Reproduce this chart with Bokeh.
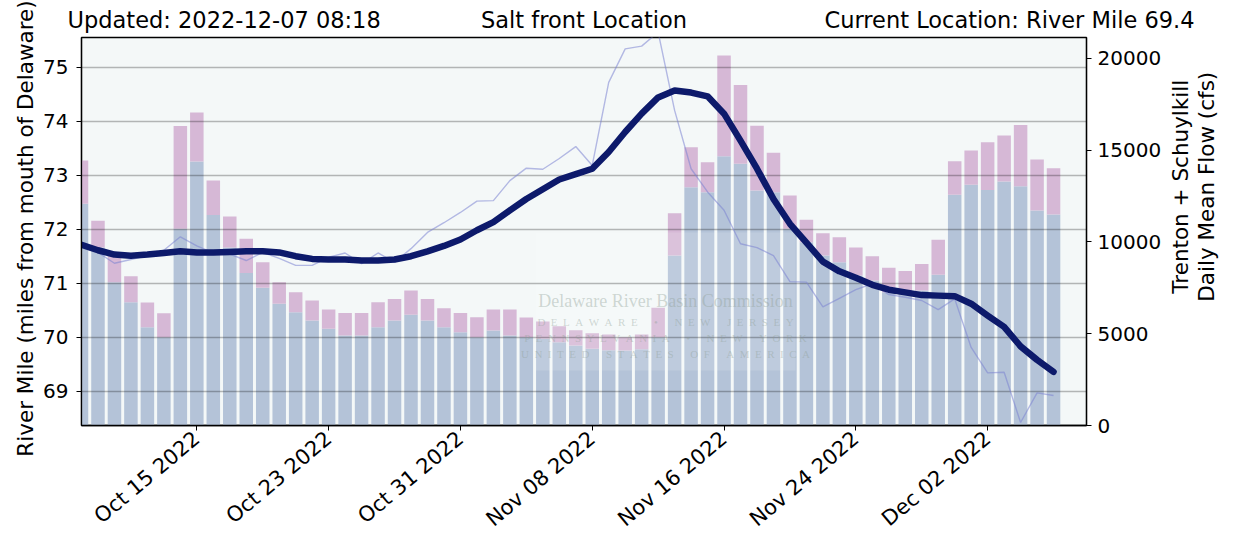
import math
from datetime import datetime, timedelta

from bokeh.plotting import figure
from bokeh.layouts import column, row
from bokeh.models import Range1d, LinearAxis, FixedTicker, DatetimeTickFormatter, Label
from bokeh.embed import file_html
from bokeh.resources import INLINE

# ---------------- data ----------------
start_date = datetime(2022, 10, 8)
n_days = 60
dates = [start_date + timedelta(days=i) for i in range(n_days)]

# Trenton daily mean flow (cfs) - lower (blue) part of the bars
trenton_flow = [12070, 9700, 7800, 6715, 5350, 4810, 10710, 14375, 11470, 9700,
                8310, 7495, 6625, 6170, 5720, 5265, 4900, 4900, 5350, 5720,
                6025, 5720, 5350, 5080, 4810, 5170, 4900, 4810, 4720, 4540,
                4355, 4175, 4100, 4085, 4150, 4810, 9255, 12975, 12700, 14665,
                14250, 12800, 12700, 10710, 9980, 9255, 8890, 8170, 7895, 7260,
                7260, 7350, 8205, 12560, 13105, 12830, 13285, 13030, 11705, 11490]
# Schuylkill daily mean flow (cfs) - upper (purple) part of the bars
schuylkill_flow = [2360, 1445, 1630, 1415, 1350, 1305, 5600, 2665, 1870, 1680,
                   1855, 1400, 1180, 1090, 1085, 1050, 1230, 1230, 1365, 1175,
                   1325, 1175, 1040, 1050, 1090, 1145, 1415, 1070, 940, 870,
                   835, 855, 855, 725, 805, 1600, 2305, 2180, 1640, 5485,
                   4300, 3520, 2150, 1810, 1220, 1215, 1360, 1520, 1325, 1325,
                   1160, 1450, 1905, 1835, 1870, 2600, 2505, 3340, 2780, 2520]
# Daily salt front location (river mile)
salt_front_daily = [71.71, 71.57, 71.37, 71.44, 71.51, 71.61, 71.86, 71.69, 71.56, 71.54,
                    71.42, 71.57, 71.46, 71.33, 71.33, 71.48, 71.56, 71.36, 71.56, 71.39,
                    71.64, 71.94, 72.12, 72.31, 72.52, 72.53, 72.90, 73.13, 73.11, 73.31,
                    73.53, 73.18, 74.72, 75.34, 75.39, 75.65, 74.20, 73.12, 72.69, 72.35,
                    71.73, 71.66, 71.51, 71.03, 71.02, 70.56, 70.72, 70.88, 70.99, 70.79,
                    70.74, 70.68, 70.51, 70.71, 69.81, 69.34, 69.35, 68.42, 68.97, 68.92]
# 7-day average salt front location (river mile)
salt_front_7day = [71.71, 71.61, 71.53, 71.51, 71.53, 71.56, 71.59, 71.57, 71.57, 71.58,
                   71.59, 71.59, 71.57, 71.50, 71.45, 71.44, 71.44, 71.42, 71.42, 71.44,
                   71.50, 71.59, 71.69, 71.81, 71.98, 72.13, 72.35, 72.56, 72.74, 72.92,
                   73.02, 73.12, 73.43, 73.80, 74.14, 74.44, 74.57, 74.53, 74.46, 74.14,
                   73.64, 73.12, 72.56, 72.10, 71.75, 71.40, 71.22, 71.10, 70.97, 70.88,
                   70.83, 70.78, 70.77, 70.76, 70.62, 70.40, 70.19, 69.83, 69.58, 69.36]

x_tick_dates = [datetime(2022, 10, 15) + timedelta(days=8 * k) for k in range(7)]
left_ticks = [69, 70, 71, 72, 73, 74, 75]
right_ticks = [0, 5000, 10000, 15000, 20000]

updated_text = "Updated: 2022-12-07 08:18"
title_text = "Salt front Location"
current_text = "Current Location: River Mile 69.4"
left_label = "River Mile (miles from mouth of Delaware)"
right_label_lines = ["Trenton + Schuylkill", "Daily Mean Flow (cfs)"]
watermark_title = "Delaware River Basin Commission"
watermark_rows = [["DELAWARE", "\u2022", "NEW", "JERSEY"],
                  ["PENNSYLVANIA", "\u2022", "NEW", "YORK"],
                  ["UNITED", "STATES", "OF", "AMERICA"]]

total_flow = [t + s for t, s in zip(trenton_flow, schuylkill_flow)]

# ---------------- geometry ----------------
EPOCH = datetime(1970, 1, 1)
DAY_MS = 86400000.0


def to_ms(dt):
    return (dt - EPOCH).total_seconds() * 1000.0


x_start = to_ms(start_date)
x_end = to_ms(start_date + timedelta(days=61))
y_lo, y_hi = 68.365, 75.55
flow_hi = 21130

PAGE_W, PAGE_H = 1233, 543
LEFT_W = 40
HEAD_H = 36
SIDE_W = 68
MAIN_W, MAIN_H = PAGE_W - LEFT_W - SIDE_W, PAGE_H - HEAD_H
FRAME_L, FRAME_T, FRAME_W, FRAME_H = 81, 37, 1005, 388   # in page pixels
B_LEFT = FRAME_L - LEFT_W
B_TOP = FRAME_T - HEAD_H
B_RIGHT = MAIN_W - B_LEFT - FRAME_W
B_BOTTOM = MAIN_H - B_TOP - FRAME_H


def sx(px):
    return x_start + (px - FRAME_L) / FRAME_W * (x_end - x_start)


def sy(py):
    return y_hi - (py - FRAME_T) / FRAME_H * (y_hi - y_lo)


FONT = "DejaVu Sans"

# ---------------- main figure ----------------
p = figure(width=MAIN_W, height=MAIN_H, x_axis_type="datetime",
           x_range=Range1d(x_start, x_end), y_range=Range1d(y_lo, y_hi),
           output_backend="svg", toolbar_location=None, title=None,
           min_border_left=B_LEFT, min_border_right=B_RIGHT,
           min_border_top=B_TOP, min_border_bottom=B_BOTTOM,
           background_fill_color="#f4f8f8", border_fill_color="white")
p.extra_y_ranges = {"flow": Range1d(0, flow_hi)}

bar_w = 0.82 * DAY_MS
p.vbar(x=dates, width=bar_w, bottom=0, top=trenton_flow, y_range_name="flow",
       fill_color="#b4c3d8", line_color=None)
p.vbar(x=dates, width=bar_w, bottom=trenton_flow, top=total_flow, y_range_name="flow",
       fill_color="#d6b8d6", line_color=None)

# watermark (faint logo text)
p.quad(left=sx(535), right=sx(795), bottom=sy(370), top=sy(232),
       fill_color="white", fill_alpha=0.14, line_color=None)
p.add_layout(Label(x=sx(665), y=sy(300), text=watermark_title, text_align="center",
                   text_baseline="middle", text_font="Liberation Serif",
                   text_font_size="18px", text_color="#8f9f96", text_alpha=0.4))
for words, yy in zip(watermark_rows, [321, 337, 353]):
    spaced = "\u2002\u2003".join("\u2002".join(w) for w in words)
    p.add_layout(Label(x=sx(665), y=sy(yy), text=spaced, text_align="center",
                       text_baseline="middle", text_font="Liberation Serif",
                       text_font_size="11px", text_color="#8f9f96", text_alpha=0.4))

# grid drawn above the bars
p.xgrid.visible = False
p.ygrid.visible = False
p.hspan(y=left_ticks, line_color="black", line_alpha=0.27, line_width=1.6)

# lines
p.line(x=dates, y=salt_front_daily, line_color="#7c84d2", line_alpha=0.55, line_width=1.4)
p.line(x=dates, y=salt_front_7day, line_color="#0d1a6b", line_width=6.5,
       line_join="round", line_cap="round")

# axes
xa = p.xaxis[0]
xa.ticker = FixedTicker(ticks=[to_ms(d) for d in x_tick_dates])
xa.formatter = DatetimeTickFormatter(days="%b %d %Y", months="%b %d %Y", hours="%b %d %Y",
                                     years="%b %d %Y")
xa.major_label_orientation = math.radians(40)
xa.major_label_text_font_size = "21px"
xa.major_label_standoff = 5

ya = p.yaxis[0]
ya.ticker = FixedTicker(ticks=left_ticks)
ya.major_label_text_font_size = "20px"
ya.major_label_standoff = 8

ra = LinearAxis(y_range_name="flow", ticker=FixedTicker(ticks=right_ticks))
ra.major_label_text_font_size = "20px"
ra.major_label_standoff = 6
p.add_layout(ra, "right")

for ax in [xa, ya, ra]:
    ax.minor_tick_line_color = None
    ax.major_tick_in = 0
    ax.major_tick_out = 5
    ax.major_tick_line_color = "black"
    ax.axis_line_color = "black"
    ax.axis_line_width = 1.3
    ax.major_label_text_font = FONT
    ax.major_label_text_color = "black"

p.outline_line_color = "black"
p.outline_line_width = 1.3


def blank_figure(w, h, xr, yr):
    f = figure(width=w, height=h, x_range=xr, y_range=yr, output_backend="svg",
               toolbar_location=None, title=None, x_axis_location=None,
               y_axis_location=None, min_border=0, outline_line_color=None,
               background_fill_color="white", border_fill_color="white")
    f.xgrid.visible = False
    f.ygrid.visible = False
    return f


# ---------------- left axis title ----------------
left = blank_figure(LEFT_W, PAGE_H, Range1d(0, LEFT_W), Range1d(PAGE_H, 0))
left.add_layout(Label(x=25, y=FRAME_T + FRAME_H / 2 - 3, text=left_label, angle=math.pi / 2,
                      text_align="center", text_baseline="middle", text_font=FONT,
                      text_font_size="21.5px", text_color="black"))

# ---------------- header (texts above the plot) ----------------
head = blank_figure(PAGE_W - LEFT_W, HEAD_H, Range1d(LEFT_W, PAGE_W), Range1d(HEAD_H, 0))
for txt, xx, al in [(updated_text, 67, "left"), (title_text, 583.5, "center"),
                    (current_text, 1194, "right")]:
    head.add_layout(Label(x=xx, y=19, text=txt, text_align=al, text_baseline="middle",
                          text_font=FONT, text_font_size="22.5px", text_color="black"))

# ---------------- right axis title ----------------
side = blank_figure(SIDE_W, MAIN_H, Range1d(PAGE_W - SIDE_W, PAGE_W), Range1d(PAGE_H, HEAD_H))
for txt, xx in zip(right_label_lines, [1180, 1206]):
    side.add_layout(Label(x=xx, y=FRAME_T + FRAME_H / 2, text=txt, angle=math.pi / 2,
                          text_align="center", text_baseline="middle", text_font=FONT,
                          text_font_size="21.5px", text_color="black"))

layout = row(left, column(head, row(p, side, spacing=0), spacing=0), spacing=0)
open("out.html", "w").write(file_html(layout, INLINE))
